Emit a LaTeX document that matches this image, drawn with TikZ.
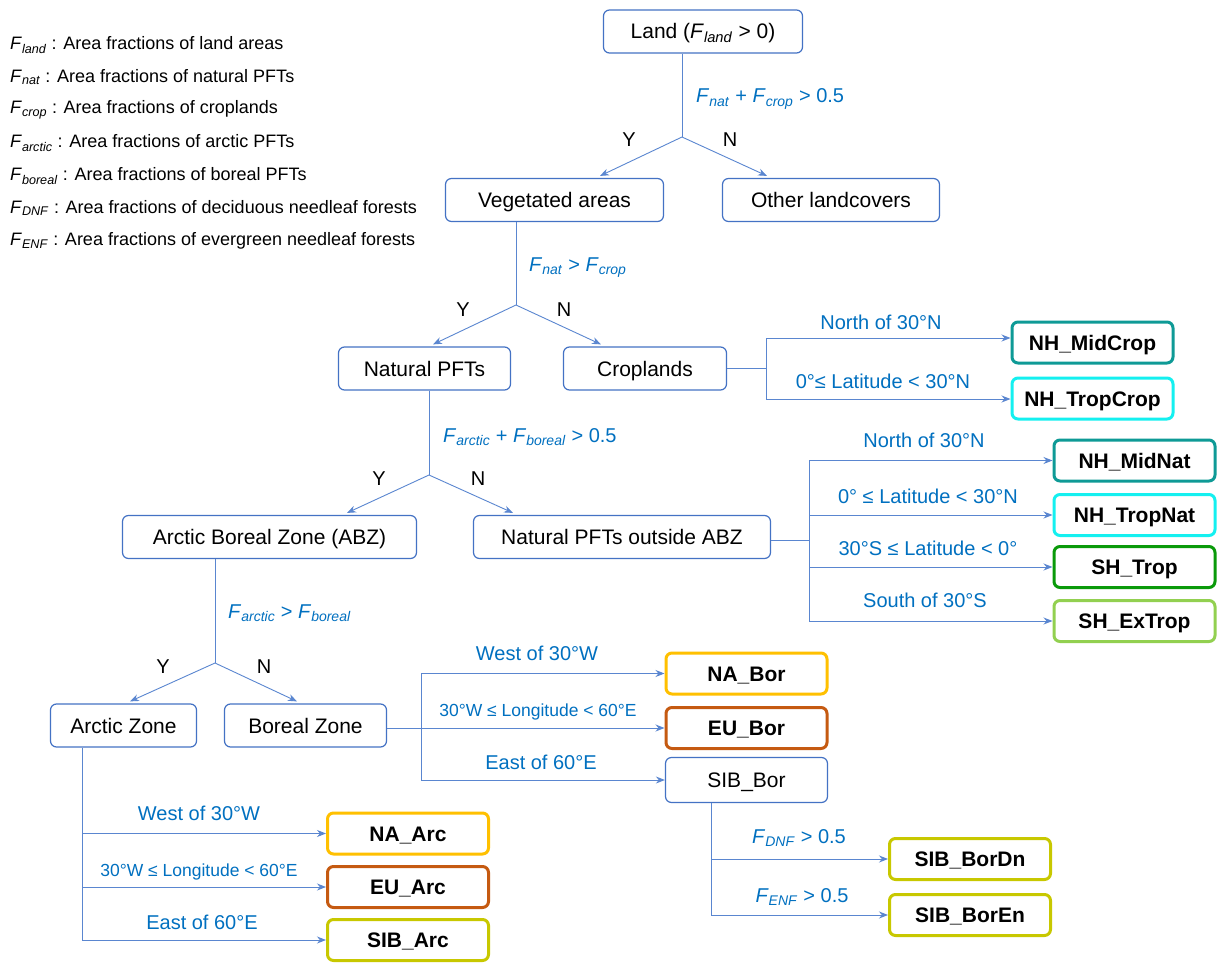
\documentclass[tikz,border=0pt]{standalone}
\usepackage{fontspec}
\setmainfont{Liberation Sans}
\usetikzlibrary{arrows.meta,calc}
\definecolor{boxblue}{HTML}{4472C4}
\definecolor{lineblue}{HTML}{5A86D0}
\definecolor{condblue}{HTML}{0070C0}
\definecolor{cTeal}{HTML}{0E9A96}
\definecolor{cCyan}{HTML}{14F0F0}
\definecolor{cGreen}{HTML}{0A9A0A}
\definecolor{cLime}{HTML}{92D050}
\definecolor{cGold}{HTML}{FFC000}
\definecolor{cRust}{HTML}{C55A11}
\definecolor{cOlive}{HTML}{C8C800}
\newcommand\Fv[1]{\textit{F}\textsubscript{\textit{#1}}}
\begin{document}
\begin{tikzpicture}[x=1pt,y=-1pt,
  box/.style={draw=boxblue,line width=1.2pt,rounded corners=6pt,fill=white,font=\fontsize{21}{25}\selectfont,inner sep=0pt,minimum height=43pt,text height=19pt,text depth=4pt},
  leaf/.style={draw=#1,line width=3pt,rounded corners=6pt,fill=white,font=\fontsize{21}{25}\selectfont\bfseries,inner sep=0pt,minimum width=161pt,minimum height=41pt,text height=19pt,text depth=4pt},
  conn/.style={draw=lineblue,line width=0.9pt},
  arr/.style={conn,-{Stealth[length=9pt,width=7pt]}},
  cond/.style={text=condblue,font=\fontsize{20}{24}\selectfont,inner sep=0pt},
  smallc/.style={text=condblue,font=\fontsize{17.5}{21}\selectfont,inner sep=0pt},
  yn/.style={font=\fontsize{20}{24}\selectfont,inner sep=0pt},
  legend/.style={font=\fontsize{18}{21}\selectfont,inner sep=0pt,anchor=west},
]
\fill[white] (0,0) rectangle (1219,963);
\useasboundingbox (0,0) rectangle (1219,963);

% legend
\node[legend] (l1) at (10,45) {\Fv{land} : Area fractions of land areas};
\node[legend] (l2) at (10,77) {\Fv{nat} : Area fractions of natural PFTs};
\node[legend] (l3) at (10,110) {\Fv{crop} : Area fractions of croplands};
\node[legend] (l4) at (10,143) {\Fv{arctic} : Area fractions of arctic PFTs};
\node[legend] (l5) at (10,176) {\Fv{boreal} : Area fractions of boreal PFTs};
\node[legend] (l6) at (10,208) {\Fv{DNF} : Area fractions of deciduous needleaf forests};
\node[legend] (l7) at (10,241) {\Fv{ENF} : Area fractions of evergreen needleaf forests};

% boxes
\node[box,minimum width=199pt] (Land) at (703,31.5) {Land (\Fv{land} > 0)};
\node[box,minimum width=218pt] (Veg) at (554.5,200) {Vegetated areas};
\node[box,minimum width=217pt] (Oth) at (831,200) {Other landcovers};
\node[box,minimum width=172pt] (Nat) at (424.5,368.5) {Natural PFTs};
\node[box,minimum width=163pt] (Crop) at (645,368.5) {Croplands};
\node[box,minimum width=294pt] (ABZ) at (269.5,537) {Arctic Boreal Zone (ABZ)};
\node[box,minimum width=297pt] (Out) at (622,537) {Natural PFTs outside ABZ};
\node[box,minimum width=146pt] (AZ) at (123.5,725.5) {Arctic Zone};
\node[box,minimum width=162pt] (BZ) at (305.5,725.5) {Boreal Zone};
\node[box,minimum width=162pt,minimum height=45pt] (SIBB) at (746.5,780) {SIB\_Bor};

\node[leaf=cTeal] (NHMC) at (1092.5,342.5) {NH\_MidCrop};
\node[leaf=cCyan] (NHTC) at (1092.5,398.5) {NH\_TropCrop};
\node[leaf=cTeal] (NHMN) at (1134.5,460.5) {NH\_MidNat};
\node[leaf=cCyan] (NHTN) at (1134.5,515) {NH\_TropNat};
\node[leaf=cGreen] (SHT) at (1134.5,567) {SH\_Trop};
\node[leaf=cLime] (SHE) at (1134.5,621) {SH\_ExTrop};
\node[leaf=cGold] (NAB) at (746.5,673.5) {NA\_Bor};
\node[leaf=cRust] (EUB) at (746.5,728) {EU\_Bor};
\node[leaf=cGold] (NAA) at (408,833.5) {NA\_Arc};
\node[leaf=cRust] (EUA) at (408,887) {EU\_Arc};
\node[leaf=cOlive] (SIBA) at (408,940) {SIB\_Arc};
\node[leaf=cOlive] (SBD) at (970,859) {SIB\_BorDn};
\node[leaf=cOlive] (SBE) at (970,915) {SIB\_BorEn};

% junctions
\coordinate (j1) at (682,137);
\coordinate (j2) at (516,305);
\coordinate (j3) at (429,475);
\coordinate (j4) at (215,663);
\coordinate (c1) at (766,338);
\coordinate (c2) at (766,399);
\coordinate (o) at (809,540);
\coordinate (bz) at (421,728);
\coordinate (az) at (82,748);
\coordinate (sb) at (711,803);

% tree connectors
\draw[conn] (Land.south -| j1) -- (j1);
\draw[arr] (j1) -- ($(Veg.north)+(45.5,-2)$);
\draw[arr] (j1) -- ($(Oth.north)+(-64,-2)$);
\draw[conn] (Veg.south -| j2) -- (j2);
\draw[arr] (j2) -- ($(Nat.north)+(8.5,-2)$);
\draw[arr] (j2) -- ($(Crop.north)+(-44,-2)$);
\draw[conn] (Nat.south -| j3) -- (j3);
\draw[arr] (j3) -- ($(ABZ.north)+(77.5,-2)$);
\draw[arr] (j3) -- ($(Out.north)+(-109,-2)$);
\draw[conn] (ABZ.south -| j4) -- (j4);
\draw[arr] (j4) -- ($(AZ.north)+(6.5,-2)$);
\draw[arr] (j4) -- ($(BZ.north)+(-8.5,-2)$);

% croplands branches
\draw[conn] (Crop.east) -- (Crop.east -| c1);
\draw[conn] (c1) -- (c2);
\draw[arr] (c1) -- (c1 -| NHMC.west);
\draw[arr] (c2) -- (c2 -| NHTC.west);

% outside ABZ branches
\draw[conn] (Out.east |- o) -- (o);
\draw[conn] (NHMN.west -| o) -- (SHE.west -| o);
\draw[arr] (NHMN.west -| o) -- (NHMN.west);
\draw[arr] (NHTN.west -| o) -- (NHTN.west);
\draw[arr] (SHT.west -| o) -- (SHT.west);
\draw[arr] (SHE.west -| o) -- (SHE.west);

% boreal branches
\draw[arr] (BZ.east |- EUB.west) -- (EUB.west);
\draw[conn] (NAB.west -| bz) -- (SIBB.west -| bz);
\draw[arr] (NAB.west -| bz) -- (NAB.west);
\draw[arr] (SIBB.west -| bz) -- (SIBB.west);

% arctic branches
\draw[conn] (AZ.south -| az) -- (SIBA.west -| az);
\draw[arr] (NAA.west -| az) -- (NAA.west);
\draw[arr] (EUA.west -| az) -- (EUA.west);
\draw[arr] (SIBA.west -| az) -- (SIBA.west);

% SIB boreal branches
\draw[conn] (SIBB.south -| sb) -- (SBE.west -| sb);
\draw[arr] (SBD.west -| sb) -- (SBD.west);
\draw[arr] (SBE.west -| sb) -- (SBE.west);

% conditions
\node[cond,anchor=west] (k1) at (696,99) {\Fv{nat} + \Fv{crop} > 0.5};
\node[cond,anchor=west] (k2) at (529,268) {\Fv{nat} > \Fv{crop}};
\node[cond,anchor=west] (k3) at (443,437) {\Fv{arctic} + \Fv{boreal} > 0.5};
\node[cond,anchor=west] (k4) at (228,613) {\Fv{arctic} > \Fv{boreal}};

% Y / N
\node[yn] (y1) at (629,140) {Y};
\node[yn] (n1) at (730,140) {N};
\node[yn] (y2) at (463,310) {Y};
\node[yn] (n2) at (564,310) {N};
\node[yn] (y3) at (379,479) {Y};
\node[yn] (n3) at (478,479) {N};
\node[yn] (y4) at (163,667) {Y};
\node[yn] (n4) at (264,667) {N};

% branch labels
\node[cond] (a1) at (881,322) {North of 30°N};
\node[cond] (a2) at (883,381) {0°≤ Latitude < 30°N};
\node[cond] (b1) at (924,440) {North of 30°N};
\node[cond] (b2) at (928,496) {0° ≤ Latitude < 30°N};
\node[cond] (b3) at (928,548) {30°S ≤ Latitude < 0°};
\node[cond] (b4) at (925,600) {South of 30°S};
\node[cond] (d1) at (537,653) {West of 30°W};
\node[smallc] (d2) at (538,712) {30°W ≤ Longitude < 60°E};
\node[cond] (d3) at (541,762) {East of 60°E};
\node[cond] (e1) at (199,813) {West of 30°W};
\node[smallc] (e2) at (199,872) {30°W ≤ Longitude < 60°E};
\node[cond] (e3) at (202,922) {East of 60°E};
\node[cond] (f1) at (799,838) {\Fv{DNF} > 0.5};
\node[cond] (f2) at (802,897) {\Fv{ENF} > 0.5};
\end{tikzpicture}
\end{document}
